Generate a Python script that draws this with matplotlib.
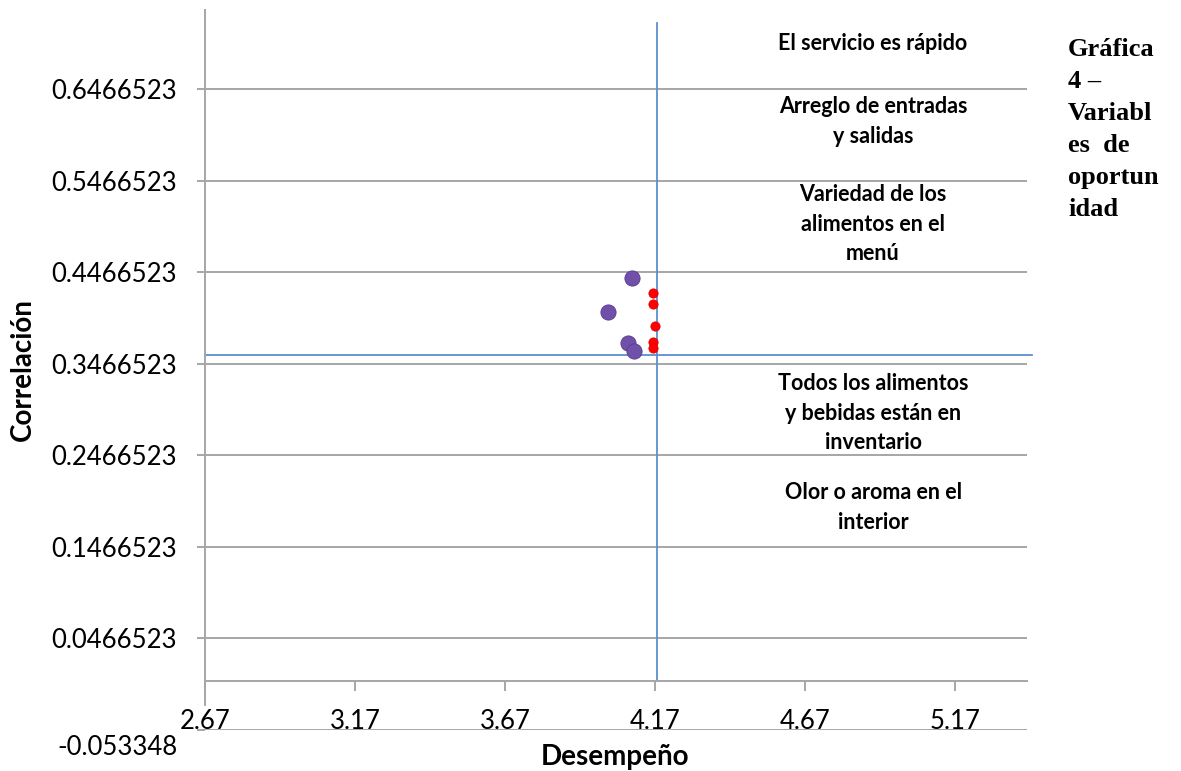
"""Quadrant chart: correlación vs desempeño (variables de oportunidad)."""

import matplotlib.pyplot as plt
from matplotlib.transforms import ScaledTranslation

# data
purple_x = [4.092, 4.012, 4.081, 4.101]
purple_y = [0.4404, 0.4040, 0.3694, 0.3603]
red_x = [4.162, 4.162, 4.170, 4.162, 4.162]
red_y = [0.4240, 0.4124, 0.3887, 0.3712, 0.3639]

x_ticks = [2.67, 3.17, 3.67, 4.17, 4.67, 5.17]
x_labels = ["2.67", "3.17", "3.67", "4.17", "4.67", "5.17"]
y_ticks = [-0.053348, 0.0466523, 0.1466523, 0.2466523, 0.3466523,
           0.4466523, 0.5466523, 0.6466523]
y_labels = ["-0.053348", "0.0466523", "0.1466523", "0.2466523", "0.3466523",
            "0.4466523", "0.5466523", "0.6466523"]

x_cut = 4.177   # performance mean (vertical blue line)
y_cut = 0.357   # correlation mean (horizontal blue line)

quadrant_notes = [
    (4.897, 0.6969, "El servicio es rápido"),
    (4.897, 0.6117, "Arreglo de entradas\ny salidas"),
    (4.897, 0.4991, "Variedad de los\nalimentos en el\nmenú"),
    (4.897, 0.2926, "Todos los alimentos\ny bebidas están en\ninventario"),
    (4.897, 0.1898, "Olor o aroma en el\ninterior"),
]

plt.rcParams['font.family'] = ['Lato', 'DejaVu Sans']

fig = plt.figure(figsize=(11.81, 7.71), dpi=100)
ax = fig.add_axes([205 / 1181, 1 - 730 / 771, 822 / 1181, 720 / 771])

ax.set_xlim(2.67, 5.41)
ax.set_ylim(-0.053348, 0.7335)

grid_col = '#a6a6a6'
for y in y_ticks:
    ax.axhline(y, color=grid_col, lw=1.4, zorder=1)

# x axis crossing at 0
ax.spines['bottom'].set_position(('data', 0))
ax.spines['bottom'].set_color(grid_col)
ax.spines['bottom'].set_linewidth(1.4)
ax.spines['left'].set_color(grid_col)
ax.spines['left'].set_linewidth(1.4)
ax.spines['left'].set_bounds(-0.0255, 0.7335)
ax.spines['top'].set_visible(False)
ax.spines['right'].set_visible(False)

ax.set_xticks(x_ticks)
ax.set_xticklabels(x_labels, fontsize=18.5)
ax.set_yticks(y_ticks)
ax.set_yticklabels(y_labels, fontsize=18.5)
ax.tick_params(axis='x', direction='out', length=7, width=1.4, color=grid_col, pad=13)
ax.tick_params(axis='y', direction='out', length=6, width=1.4, color=grid_col, pad=14)

# the lowest y label sits a bit below its gridline in the original
low = ax.get_yticklabels()[0]
low.set_transform(low.get_transform() + ScaledTranslation(0, -15 / 100, fig.dpi_scale_trans))

# mean lines
line_blue = '#5b8fd0'
ax.plot([x_cut, x_cut], [0, 0.7188], color=line_blue, lw=1.3, zorder=2)
ax.plot([2.67, 5.427], [y_cut, y_cut], color=line_blue, lw=1.3, zorder=2, clip_on=False)

ax.scatter(purple_x, purple_y, s=120, color='#7050a8', edgecolors='#5a3c90',
           linewidths=0.6, zorder=4)
ax.scatter(red_x, red_y, s=45, color='#ff0000', edgecolors='#e00000',
           linewidths=0.5, zorder=5)

for x, y, txt in quadrant_notes:
    ax.text(x, y, txt, ha='center', va='center', fontsize=15.5,
            fontweight='bold', linespacing=1.5)

fig.text(23 / 1181, 1 - 370 / 771, "Correlación", rotation=90, ha='center',
         va='center', fontsize=20, fontweight='bold')
fig.text(615 / 1181, 1 - 757 / 771, "Desempeño", ha='center', va='center',
         fontsize=20, fontweight='bold')

fig.text(1068 / 1181, 1 - 38 / 771, "Gráfica\n4 –\nVariabl\nes  de\noportun\nidad",
         ha='left', va='top', fontsize=19, fontweight='bold',
         family='Liberation Serif', linespacing=1.5)

plt.savefig('out.png', dpi=100)
